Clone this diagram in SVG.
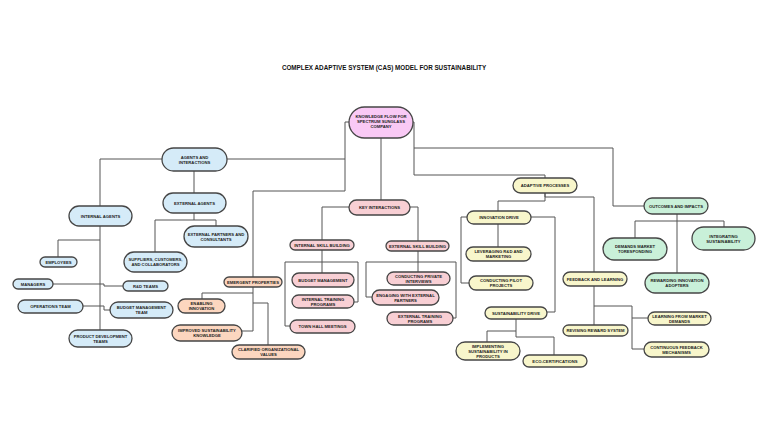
<svg xmlns="http://www.w3.org/2000/svg" width="768" height="433" viewBox="0 0 768 433">
<style>
.n{stroke:#464646;stroke-width:1.3}
.root{fill:#f9c9f5}.blue{fill:#d5ebf8}.peach{fill:#fcd6bf}.pink{fill:#f8cfd4}.yellow{fill:#f8f6cb}.green{fill:#c9f0d9}
text{font-family:"Liberation Sans",Arial,sans-serif;font-weight:bold;font-size:4.2px;fill:#222;text-anchor:middle}
.title{font-size:6.3px;fill:#111}
#connectors path{fill:none;stroke:#555;stroke-width:1;stroke-linejoin:round}
</style>
<rect width="768" height="433" fill="#ffffff"/>
<text class="title" x="384" y="70">COMPLEX ADAPTIVE SYSTEM (CAS) MODEL FOR SUSTAINABILITY</text>
<g id="connectors">
<path d="M349,122 H345 V159 H227"/>
<path d="M345,159 V191 H253 V277"/>
<path d="M381,138 V200"/>
<path d="M413,122 H414 V148 H613 V206 H644"/>
<path d="M414,148 V175 H545 V178"/>
<path d="M162,159 H100 V206"/>
<path d="M194,171 V193"/>
<path d="M194,213 V220 H155 V252"/>
<path d="M194,220 H216 V226"/>
<path d="M100,226 V330"/>
<path d="M100,240 H58 V257"/>
<path d="M100,284 H53"/>
<path d="M100,284 H104 V286 H123"/>
<path d="M100,306 H83"/>
<path d="M100,306 H104 V310 H110"/>
<path d="M253,287 V331 H242"/>
<path d="M253,293 H202 V299"/>
<path d="M253,303 H268 V345"/>
<path d="M349,207 H322 V240"/>
<path d="M410,207 H418 V241"/>
<path d="M322,250 V273"/>
<path d="M322,262 H285 V326 H290"/>
<path d="M322,262 H358 V302 H354"/>
<path d="M418,251 V272"/>
<path d="M418,262 H366 V297 H372"/>
<path d="M418,262 H456 V318 H453"/>
<path d="M545,193 V201 H498 V211"/>
<path d="M545,193 V197 H594 V272"/>
<path d="M498,224 V247"/>
<path d="M467,217 H461 V283 H469"/>
<path d="M531,217 H555 V312 H547"/>
<path d="M516,319 V331 H487 V342"/>
<path d="M516,331 V337 H554 V355"/>
<path d="M594,286 V325"/>
<path d="M594,306 H632 V318 H648"/>
<path d="M632,318 V349 H644"/>
<path d="M677,214 V221 H635 V238"/>
<path d="M677,221 H724 V227"/>
<path d="M677,221 V273"/>
</g>
<g id="root"><rect class="n root" x="349" y="107" width="64" height="31" rx="15.5"/><text x="381"><tspan x="381" y="118">KNOWLEDGE FLOW FOR</tspan><tspan x="381" y="123">SPECTRUM SUNGLASS</tspan><tspan x="381" y="128">COMPANY</tspan></text></g>
<g id="agents-interactions"><rect class="n blue" x="162" y="148" width="65" height="23" rx="11.5"/><text><tspan x="194.5" y="158.5">AGENTS AND</tspan><tspan x="194.5" y="163.5">INTERACTIONS</tspan></text></g>
<g id="internal-agents"><rect class="n blue" x="69" y="206" width="63" height="20" rx="10"/><text x="100.5" y="217.5">INTERNAL AGENTS</text></g>
<g id="external-agents"><rect class="n blue" x="163" y="193" width="63" height="20" rx="10"/><text x="194.5" y="204.5">EXTERNAL AGENTS</text></g>
<g id="external-partners"><rect class="n blue" x="184" y="226" width="64" height="21" rx="10.5"/><text><tspan x="216" y="235.5">EXTERNAL PARTNERS AND</tspan><tspan x="216" y="240.5">CONSULTANTS</tspan></text></g>
<g id="suppliers"><rect class="n blue" x="124" y="252" width="63" height="20" rx="10"/><text><tspan x="155.5" y="261">SUPPLIERS, CUSTOMERS,</tspan><tspan x="155.5" y="266">AND COLLABORATORS</tspan></text></g>
<g id="employees"><rect class="n blue" x="40" y="257" width="37" height="10" rx="5"/><text x="58.5" y="263.5">EMPLOYEES</text></g>
<g id="managers"><rect class="n blue" x="13" y="279" width="40" height="10" rx="5"/><text x="33" y="285.5">MANAGERS</text></g>
<g id="rd-teams"><rect class="n blue" x="123" y="281" width="45" height="10" rx="5"/><text x="145.5" y="287.5">R&amp;D TEAMS</text></g>
<g id="operations-team"><rect class="n blue" x="18" y="300" width="65" height="13" rx="6.5"/><text x="50.5" y="308">OPERATIONS TEAM</text></g>
<g id="budget-management-team"><rect class="n blue" x="110" y="302" width="63" height="16" rx="8"/><text><tspan x="141.5" y="309">BUDGET MANAGEMENT</tspan><tspan x="141.5" y="314">TEAM</tspan></text></g>
<g id="product-development"><rect class="n blue" x="69" y="330" width="63" height="17" rx="8.5"/><text><tspan x="100.5" y="337.5">PRODUCT DEVELOPMENT</tspan><tspan x="100.5" y="342.5">TEAMS</tspan></text></g>
<g id="emergent-properties"><rect class="n peach" x="224" y="277" width="58" height="10" rx="5"/><text x="253" y="283.5">EMERGENT PROPERTIES</text></g>
<g id="enabling-innovation"><rect class="n peach" x="178" y="299" width="47" height="14" rx="7"/><text><tspan x="201.5" y="305">ENABLING</tspan><tspan x="201.5" y="310">INNOVATION</tspan></text></g>
<g id="improved-knowledge"><rect class="n peach" x="172" y="325" width="70" height="16" rx="8"/><text><tspan x="207" y="332">IMPROVED SUSTAINABILITY</tspan><tspan x="207" y="337">KNOWLEDGE</tspan></text></g>
<g id="clarified-values"><rect class="n peach" x="232" y="345" width="73" height="14" rx="7"/><text><tspan x="268.5" y="351">CLARIFIED ORGANIZATIONAL</tspan><tspan x="268.5" y="356">VALUES</tspan></text></g>
<g id="key-interactions"><rect class="n pink" x="349" y="200" width="61" height="15" rx="7.5"/><text x="379.5" y="209">KEY INTERACTIONS</text></g>
<g id="internal-skill"><rect class="n pink" x="290" y="240" width="64" height="10" rx="5"/><text x="322" y="246.5">INTERNAL SKILL BUILDING</text></g>
<g id="external-skill"><rect class="n pink" x="386" y="241" width="63" height="10" rx="5"/><text x="417.5" y="247.5">EXTERNAL SKILL BUILDING</text></g>
<g id="budget-management"><rect class="n pink" x="292" y="273" width="62" height="14" rx="7"/><text x="323" y="281.5">BUDGET MANAGEMENT</text></g>
<g id="internal-training"><rect class="n pink" x="292" y="295" width="62" height="13" rx="6.5"/><text><tspan x="323" y="300.5">INTERNAL TRAINING</tspan><tspan x="323" y="305.5">PROGRAMS</tspan></text></g>
<g id="town-hall"><rect class="n pink" x="290" y="320" width="65" height="13" rx="6.5"/><text x="322.5" y="328">TOWN HALL MEETINGS</text></g>
<g id="private-interviews"><rect class="n pink" x="387" y="272" width="63" height="13" rx="6.5"/><text><tspan x="418.5" y="277.5">CONDUCTING PRIVATE</tspan><tspan x="418.5" y="282.5">INTERVIEWS</tspan></text></g>
<g id="engaging-partners"><rect class="n pink" x="372" y="290" width="67" height="15" rx="7.5"/><text><tspan x="405.5" y="296.5">ENGAGING WITH EXTERNAL</tspan><tspan x="405.5" y="301.5">PARTNERS</tspan></text></g>
<g id="external-training"><rect class="n pink" x="387" y="312" width="66" height="13" rx="6.5"/><text><tspan x="420" y="317.5">EXTERNAL TRAINING</tspan><tspan x="420" y="322.5">PROGRAMS</tspan></text></g>
<g id="adaptive-processes"><rect class="n yellow" x="513" y="178" width="64" height="15" rx="7.5"/><text x="545" y="187">ADAPTIVE PROCESSES</text></g>
<g id="innovation-drive"><rect class="n yellow" x="467" y="211" width="64" height="13" rx="6.5"/><text x="499" y="219">INNOVATION DRIVE</text></g>
<g id="leveraging"><rect class="n yellow" x="466" y="247" width="65" height="14" rx="7"/><text><tspan x="498.5" y="253">LEVERAGING R&amp;D AND</tspan><tspan x="498.5" y="258">MARKETING</tspan></text></g>
<g id="pilot-projects"><rect class="n yellow" x="469" y="276" width="64" height="14" rx="7"/><text><tspan x="501" y="282">CONDUCTING PILOT</tspan><tspan x="501" y="287">PROJECTS</tspan></text></g>
<g id="sustainability-drive"><rect class="n yellow" x="485" y="307" width="62" height="12" rx="6"/><text x="516" y="314.5">SUSTAINABILITY DRIVE</text></g>
<g id="implementing"><rect class="n yellow" x="456" y="342" width="64" height="18" rx="9"/><text><tspan x="488" y="347.5">IMPLEMENTING</tspan><tspan x="488" y="352.5">SUSTAINABILITY IN</tspan><tspan x="488" y="357.5">PRODUCTS</tspan></text></g>
<g id="eco-certifications"><rect class="n yellow" x="523" y="355" width="64" height="12" rx="6"/><text x="555" y="362.5">ECO-CERTIFICATIONS</text></g>
<g id="feedback-learning"><rect class="n yellow" x="563" y="272" width="64" height="14" rx="7"/><text x="595" y="280.5">FEEDBACK AND LEARNING</text></g>
<g id="revising-reward"><rect class="n yellow" x="563" y="325" width="65" height="11" rx="5.5"/><text x="595.5" y="332">REVISING REWARD SYSTEM</text></g>
<g id="learning-market"><rect class="n yellow" x="648" y="312" width="63" height="13" rx="6.5"/><text><tspan x="679.5" y="317.5">LEARNING FROM MARKET</tspan><tspan x="679.5" y="322.5">DEMANDS</tspan></text></g>
<g id="continuous-feedback"><rect class="n yellow" x="644" y="342" width="65" height="15" rx="7.5"/><text><tspan x="676.5" y="348.5">CONTINUOUS FEEDBACK</tspan><tspan x="676.5" y="353.5">MECHANISMS</tspan></text></g>
<g id="outcomes-impacts"><rect class="n green" x="644" y="198" width="64" height="16" rx="8"/><text x="676" y="207.5">OUTCOMES AND IMPACTS</text></g>
<g id="demands-market"><rect class="n green" x="603" y="238" width="64" height="22" rx="11"/><text><tspan x="635" y="248">DEMANDS MARKET</tspan><tspan x="635" y="253">TORESPONDING</tspan></text></g>
<g id="integrating"><rect class="n green" x="692" y="227" width="63" height="23" rx="11.5"/><text><tspan x="723.5" y="237.5">INTEGRATING</tspan><tspan x="723.5" y="242.5">SUSTAINABILITY</tspan></text></g>
<g id="rewarding-adopters"><rect class="n green" x="645" y="273" width="64" height="20" rx="10"/><text><tspan x="677" y="282">REWARDING INNOVATION</tspan><tspan x="677" y="287">ADOPTERS</tspan></text></g>
</svg>
